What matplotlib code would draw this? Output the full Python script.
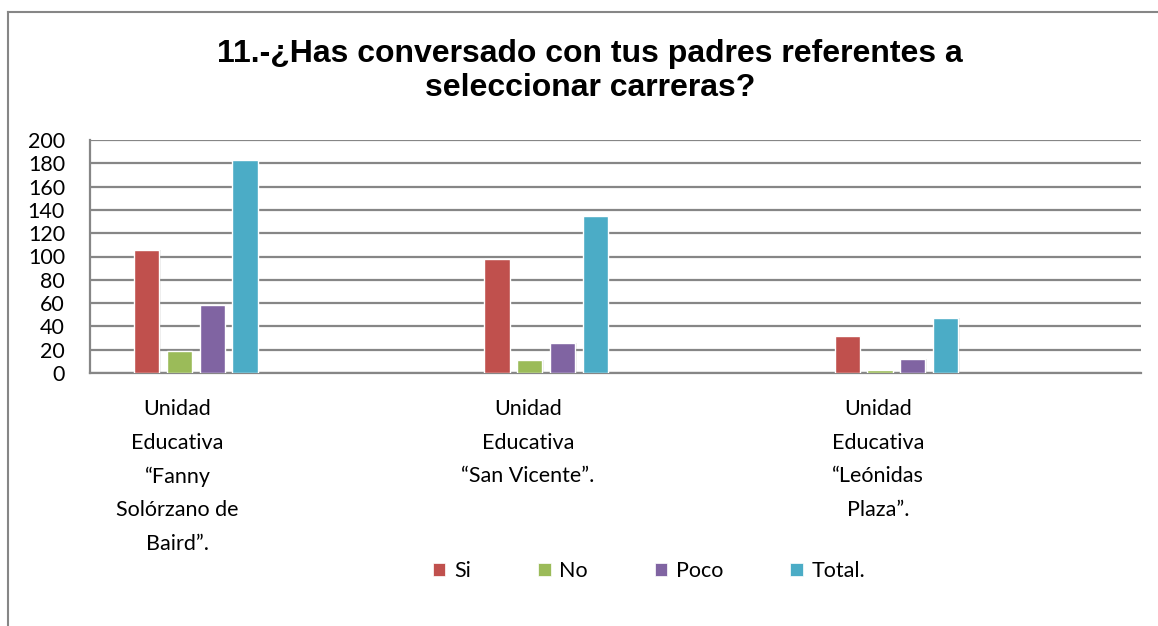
import numpy as np
import matplotlib
matplotlib.use('Agg')
import matplotlib.pyplot as plt
from matplotlib.patches import Patch
from matplotlib.lines import Line2D

# Data
categories = ['Unidad\nEducativa\n\u201cFanny\nSol\u00f3rzano de\nBaird\u201d.',
              'Unidad\nEducativa\n\u201cSan Vicente\u201d.',
              'Unidad\nEducativa\n\u201cLe\u00f3nidas\nPlaza\u201d.']
series = ['Si', 'No', 'Poco', 'Total.']
si = [106, 98, 32]
no = [19, 11, 3]
poco = [58, 26, 12]
total = [183, 135, 47]
colors = ['#C0504D', '#9BBB59', '#8064A2', '#4BACC6']
yticks = list(range(0, 201, 20))

title = '11.-\u00bfHas conversado con tus padres referentes a\nseleccionar carreras?'

fig = plt.figure(figsize=(11.58, 6.26), dpi=100)
ax = fig.add_axes([90 / 1158, 1 - 373 / 626, 1051 / 1158, 233 / 626])

# Excel layout: 8 series slots per category, only the first 4 are used
gap = 0.1255
slot = (1 - 2 * gap) / 8
bar_w = slot * 0.77
x = np.arange(len(categories))
for j, (vals, c) in enumerate(zip([si, no, poco, total], colors)):
    left = x + gap + j * slot
    # soft shadow like the Excel style
    ax.bar(left + 0.004, vals, width=bar_w, align='edge', color='#000000',
           alpha=0.08, zorder=2, linewidth=0)
    ax.bar(left, vals, width=bar_w, align='edge', color=c,
           edgecolor='white', linewidth=1.0, zorder=3)

ax.set_xlim(0, 3)
ax.set_ylim(0, 200)
ax.set_yticks(yticks)
ax.set_yticklabels([str(v) for v in yticks], family='Lato', fontsize=15.5)
ax.yaxis.grid(True, color='#868686', linewidth=1.6, zorder=0)
ax.set_axisbelow(True)
ax.tick_params(axis='y', length=0, pad=18)

ax.set_xticks(x + 0.25)
ax.set_xticklabels(categories, family='Lato', fontsize=15.5, linespacing=1.84,
                   va='top', ha='center')
ax.tick_params(axis='x', length=0, pad=19)

for s in ['top', 'right']:
    ax.spines[s].set_visible(False)
for s in ['left', 'bottom']:
    ax.spines[s].set_color('#868686')
    ax.spines[s].set_linewidth(1.6)

fig.text(590 / 1158, 1 - 71 / 626, title, ha='center', va='center',
         family='Liberation Sans', fontweight='bold', fontsize=23,
         linespacing=1.15)

handles = [Patch(facecolor=c, edgecolor='white', linewidth=0.5) for c in colors]
fig.legend(handles, series, loc='center', bbox_to_anchor=(649 / 1158, 1 - 571 / 626),
           ncol=4, frameon=False, prop={'family': 'Lato', 'size': 15.5},
           handlelength=0.6, handleheight=0.6, handletextpad=0.4,
           columnspacing=3.1)

# outer chart border (top and left visible)
fig.add_artist(Line2D([8 / 1158, 1], [1 - 12 / 626, 1 - 12 / 626],
                      color='#868686', linewidth=1.5))
fig.add_artist(Line2D([8 / 1158, 8 / 1158], [1 - 12 / 626, 0],
                      color='#868686', linewidth=1.5))

fig.savefig('out.png', dpi=100)
